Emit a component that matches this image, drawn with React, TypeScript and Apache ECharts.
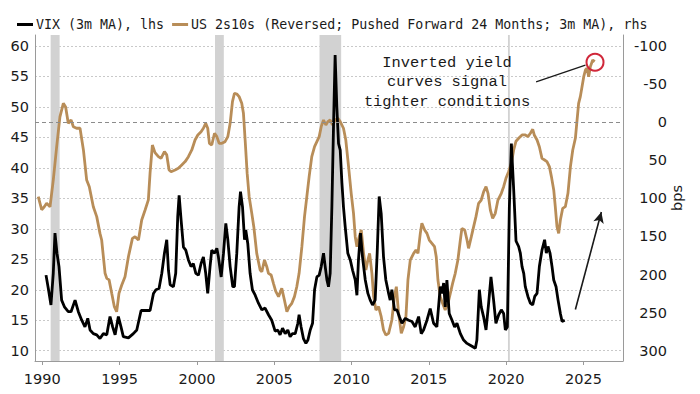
import React, { useEffect, useRef } from "react";
import * as echarts from "echarts";

// ---------- DATA ----------
const vixName = "VIX (3m MA), lhs";
const curveName = "US 2s10s (Reversed; Pushed Forward 24 Months; 3m MA), rhs";

const vixYears = [
  1990.24, 1990.39, 1990.56, 1990.71, 1990.82, 1990.95, 1991.08, 1991.25, 1991.43, 1991.68,
  1991.86, 1992.12, 1992.33, 1992.55, 1992.76, 1992.94, 1993.09, 1993.3, 1993.52, 1993.73,
  1993.95, 1994.17, 1994.38, 1994.55, 1994.71, 1994.92, 1995.09, 1995.24, 1995.57, 1995.89,
  1996.11, 1996.39, 1996.75, 1996.97, 1997.19, 1997.35, 1997.55, 1997.73, 1997.9, 1998.05,
  1998.16, 1998.27, 1998.48, 1998.63, 1998.76, 1998.85, 1998.98, 1999.13, 1999.28, 1999.45,
  1999.62, 1999.77, 1999.93, 2000.1, 2000.27, 2000.42, 2000.57, 2000.7, 2000.85, 2000.96,
  2001.14, 2001.29, 2001.39, 2001.57, 2001.72, 2001.87, 2002.0, 2002.15, 2002.32, 2002.43,
  2002.58, 2002.73, 2002.82, 2002.95, 2003.08, 2003.16, 2003.29, 2003.44, 2003.59, 2003.77,
  2003.98, 2004.2, 2004.41, 2004.63, 2004.84, 2005.06, 2005.23, 2005.38, 2005.54, 2005.71,
  2005.88, 2006.03, 2006.18, 2006.36, 2006.53, 2006.61, 2006.74, 2006.89, 2007.05, 2007.18,
  2007.33, 2007.48, 2007.61, 2007.76, 2007.91, 2008.04, 2008.19, 2008.3, 2008.41, 2008.51,
  2008.62, 2008.73, 2008.84, 2008.94, 2009.05, 2009.16, 2009.27, 2009.38, 2009.48, 2009.59,
  2009.76, 2009.92, 2010.07, 2010.24, 2010.35, 2010.45, 2010.58, 2010.71, 2010.89, 2011.06,
  2011.21, 2011.36, 2011.53, 2011.66, 2011.79, 2011.92, 2012.07, 2012.22, 2012.4, 2012.5,
  2012.61, 2012.78, 2012.94, 2013.09, 2013.26, 2013.48, 2013.69, 2013.91, 2014.12, 2014.34,
  2014.51, 2014.66, 2014.88, 2015.09, 2015.31, 2015.52, 2015.74, 2015.85, 2015.96, 2016.06,
  2016.17, 2016.32, 2016.5, 2016.67, 2016.82, 2017.04, 2017.25, 2017.47, 2017.68, 2018.01,
  2018.11, 2018.27, 2018.39, 2018.54, 2018.7, 2018.87, 2019.02, 2019.19, 2019.34, 2019.52,
  2019.69, 2019.84, 2019.95, 2020.08, 2020.21, 2020.34, 2020.49, 2020.64, 2020.81, 2020.92,
  2021.03, 2021.14, 2021.24, 2021.41, 2021.57, 2021.72, 2021.85, 2022.0, 2022.15, 2022.32,
  2022.49, 2022.6, 2022.71, 2022.84, 2022.97, 2023.08, 2023.23, 2023.36, 2023.51, 2023.62,
  2023.79,
];
const vixValues = [
  22.4, 20.2, 17.5, 22.7, 29.3, 26.0, 23.8, 18.3, 17.2, 16.4,
  16.4, 18.3, 16.4, 15.0, 13.9, 15.3, 13.4, 12.8, 12.6, 12.0,
  12.8, 12.6, 15.6, 13.9, 12.6, 15.6, 13.9, 12.3, 12.1, 12.8,
  13.4, 16.6, 16.6, 16.6, 19.4, 20.0, 20.2, 22.7, 26.0, 28.2,
  23.2, 20.8, 20.5, 22.7, 32.0, 35.5, 31.4, 27.0, 26.5, 24.9,
  23.8, 24.3, 22.7, 22.4, 24.3, 25.4, 22.7, 19.4, 23.8, 26.5,
  26.0, 26.8, 25.4, 22.1, 26.0, 30.9, 28.2, 23.8, 20.5, 20.5,
  26.0, 33.6, 36.1, 33.6, 28.2, 29.8, 27.6, 22.7, 20.0, 19.1,
  17.8, 16.7, 17.0, 15.9, 15.0, 13.2, 13.4, 12.6, 13.7, 12.8,
  13.4, 12.3, 12.8, 12.8, 14.5, 15.9, 13.9, 12.0, 11.2, 11.75,
  13.4, 14.5, 20.0, 22.1, 22.4, 23.8, 26.0, 23.8, 21.6, 20.5,
  22.7, 33.6, 47.3, 58.5, 50.0, 44.0, 42.9, 37.5, 33.6, 30.4,
  26.0, 24.9, 23.2, 21.6, 19.1, 24.9, 29.3, 25.4, 21.6, 19.4,
  18.3, 17.5, 18.3, 26.0, 35.3, 32.5, 25.4, 21.6, 19.4, 18.3,
  20.0, 16.7, 16.7, 15.6, 14.5, 15.3, 15.0, 14.8, 13.9, 15.6,
  12.8, 13.4, 15.0, 16.9, 14.5, 13.9, 20.5, 19.4, 21.1, 17.2,
  21.6, 16.1, 15.0, 13.9, 14.5, 12.8, 11.75, 11.2, 10.9, 10.4,
  11.75, 20.0, 17.2, 15.6, 13.4, 17.8, 22.1, 18.3, 14.5, 15.9,
  16.7, 16.1, 13.4, 13.9, 33.6, 44.0, 36.4, 28.0, 27.1, 26.0,
  23.8, 22.7, 20.5, 18.9, 17.8, 17.5, 18.9, 19.4, 23.8, 26.5,
  28.2, 26.0, 27.1, 26.0, 23.8, 21.6, 20.5, 18.3, 16.1, 14.8,
  15.0,
];

const curveYears = [
  1989.74, 1989.96, 1990.13, 1990.28, 1990.5, 1990.71, 1990.93, 1991.14, 1991.36, 1991.51,
  1991.68, 1991.86, 1992.01, 1992.22, 1992.44, 1992.66, 1992.87, 1993.04, 1993.3, 1993.52,
  1993.73, 1993.84, 1994.06, 1994.17, 1994.32, 1994.49, 1994.66, 1994.81, 1994.96, 1995.14,
  1995.35, 1995.57, 1995.83, 1996.0, 1996.22, 1996.43, 1996.65, 1996.86, 1996.97, 1997.12,
  1997.29, 1997.51, 1997.68, 1997.9, 1998.05, 1998.2, 1998.33, 1998.59, 1998.8, 1999.02,
  1999.24, 1999.45, 1999.67, 1999.88, 2000.06, 2000.27, 2000.42, 2000.57, 2000.7, 2000.81,
  2000.96, 2001.14, 2001.29, 2001.44, 2001.61, 2001.82, 2002.0, 2002.15, 2002.3, 2002.43,
  2002.58, 2002.73, 2002.9, 2003.01, 2003.12, 2003.25, 2003.38, 2003.55, 2003.68, 2003.87,
  2004.09, 2004.2, 2004.37, 2004.52, 2004.63, 2004.8, 2004.95, 2005.1, 2005.28, 2005.49,
  2005.66, 2005.82, 2005.97, 2006.14, 2006.31, 2006.46, 2006.61, 2006.79, 2006.96, 2007.11,
  2007.26, 2007.43, 2007.61, 2007.76, 2007.91, 2008.04, 2008.19, 2008.34, 2008.47, 2008.62,
  2008.77, 2008.94, 2009.12, 2009.27, 2009.48, 2009.63, 2009.81, 2009.98, 2010.13, 2010.24,
  2010.35, 2010.5, 2010.63, 2010.78, 2010.93, 2011.06, 2011.17, 2011.32, 2011.43, 2011.58,
  2011.75, 2011.92, 2012.07, 2012.22, 2012.4, 2012.61, 2012.78, 2012.9, 2013.04, 2013.22,
  2013.37, 2013.52, 2013.65, 2013.8, 2014.02, 2014.17, 2014.3, 2014.45, 2014.55, 2014.73,
  2014.88, 2015.03, 2015.2, 2015.37, 2015.48, 2015.59, 2015.74, 2015.89, 2016.06, 2016.24,
  2016.39, 2016.54, 2016.71, 2016.88, 2017.04, 2017.14, 2017.32, 2017.47, 2017.57, 2017.75,
  2017.9, 2018.05, 2018.22, 2018.39, 2018.55, 2018.7, 2018.83, 2018.98, 2019.13, 2019.3,
  2019.47, 2019.69, 2019.84, 2019.99, 2020.16, 2020.34, 2020.49, 2020.64, 2020.81, 2021.03,
  2021.24, 2021.41, 2021.57, 2021.72, 2021.82, 2022.0, 2022.15, 2022.32, 2022.49, 2022.64,
  2022.8, 2022.93, 2023.08, 2023.18, 2023.29, 2023.4, 2023.51, 2023.66, 2023.83, 2024.0,
  2024.16, 2024.31, 2024.48, 2024.59, 2024.69, 2024.8, 2024.91, 2025.02, 2025.13, 2025.23,
  2025.34, 2025.45, 2025.6, 2025.73,
];
const curveValues = [
  97.8, 115, 111, 106.5, 111, 76, 32, -7, -24.7, -20,
  1.5, -3, 6, 8, 8, 36.5, 76, 84.7, 111, 124,
  146, 154.7, 198.4, 205, 207, 224.7, 242.2, 248.8, 224.7, 213.8,
  202.8, 176.6, 152.5, 150.3, 154.7, 128.4, 115.3, 102, 67, 30,
  40, 45.3, 47.5, 38.7, 43, 62.8, 65, 62.8, 60.6, 56.2,
  51.8, 45.3, 36.5, 23.4, 16.8, 12.5, 8, 1.5, 8, 27.8,
  30, 14.6, 19, 27.8, 27.8, 25.6, 19, 1.5, -27, -37.9,
  -37, -33.5, -24.7, -11.6, 23.4, 67, 97.8, 119.7, 137.2, 172.2,
  194, 196.3, 181, 189.7, 198.4, 200.6, 211.6, 222, 229, 218,
  233.4, 248.8, 242.2, 237.8, 229, 216, 198.4, 163.4, 124, 97.8,
  71.5, 45.3, 32.2, 25.6, 19, 5.9, -2.8, 3.7, -0.7, -2.8,
  3.7, -2.8, -5, -0.7, 8, 23.4, 58.4, 93.4, 119.7, 150.3,
  163.4, 150.3, 141.5, 172.2, 194, 181, 172.2, 198.4, 229, 246.6,
  242.2, 255.3, 272.8, 279.4, 277.2, 259.7, 228, 216, 250, 277,
  268.5, 255.3, 207.2, 181, 172.2, 167.8, 172.2, 146, 132.8, 141.5,
  146, 154.7, 159, 163.4, 176.6, 207.2, 229, 237.8, 246.6, 237.8,
  224.7, 211.6, 198.4, 181, 154.7, 139.4, 141.5, 154.7, 165.6, 150.3,
  137.2, 124, 106.5, 102.2, 91.2, 84.7, 93.4, 115.3, 126.2, 119.7,
  102.2, 93.4, 84.7, 73.7, 65, 54, 36.5, 25, 21.2, 16.8,
  16.8, 19, 14.6, 9.4, 16.8, 23.4, 32.2, 47.5, 49.7, 51.8,
  58.4, 71.5, 89, 110.9, 137.2, 146, 128.4, 113.1, 110.9, 93.4,
  58.4, 36.5, 21.2, -2.9, -24.7, -33.5, -46.6, -59.7, -68.5, -70.7,
  -59.7, -72.9, -81.6, -79.4,
];

// US recessions (decimal years: start, end)
const recessions = [
  [1990.54, 1991.12],
  [2001.17, 2001.74],
  [2007.93, 2009.33],
  [2020.12, 2020.24],
];

const annotationLines = ["Inverted yield", "curves signal", "tighter conditions"];
// annotation markers (decimal year, bps)
const pointerLine = [[2021.94, -53], [2025.13, -75]];
const trendArrow = [[2024.48, 246], [2026.16, 118]];
const circled = [2025.75, -78.6];
const zeroLine = 0;

// axis extents
const xMin = 1989.528;
const xMax = 2027.56;
const lhsMin = 8.31;
const lhsMax = 61.8;
const rhsMin = -114.4;
const rhsMax = 313.5;

// ---------- STYLE ----------
const BROWN = "#b88d58";
const AXIS_GREY = "#9a9a9a";
const LABEL_FONT = "DejaVu Sans";

export default function App() {
  const ref = useRef<HTMLDivElement>(null);

  useEffect(() => {
    if (!ref.current) return;
    const chart = echarts.init(ref.current, undefined, { renderer: "svg" });

    const vixData = vixYears.map((y, i) => [y, vixValues[i]]);
    const curveData = curveYears.map((y, i) => [y, curveValues[i]]);

    const option: any = {
      animation: false,
      backgroundColor: "#ffffff",
      textStyle: { fontFamily: LABEL_FONT },
      legend: {
        left: 12,
        top: 13,
        icon: "rect",
        itemWidth: 16,
        itemHeight: 3,
        itemGap: 8,
        data: [
          { name: vixName, itemStyle: { color: "#000" } },
          { name: curveName, itemStyle: { color: BROWN } },
        ],
        textStyle: {
          fontFamily: "DejaVu Sans Mono",
          fontSize: 13.3,
          color: "#1a1a1a",
          padding: [0, 0, 0, -2],
        },
      },
      grid: { left: 35, right: 77, top: 35, bottom: 33, containLabel: false },
      xAxis: {
        type: "value",
        min: xMin,
        max: xMax,
        splitNumber: 8,
        axisLine: { show: true, onZero: false, lineStyle: { color: AXIS_GREY, width: 1 } },
        axisTick: { show: true, length: 4, lineStyle: { color: AXIS_GREY } },
        splitLine: { show: false },
        axisLabel: {
          showMinLabel: false,
          showMaxLabel: false,
          margin: 10,
          fontSize: 14.5,
          color: "#1a1a1a",
          fontFamily: LABEL_FONT,
          formatter: (v: number) => String(v),
        },
      },
      yAxis: [
        {
          type: "value",
          position: "left",
          min: lhsMin,
          max: lhsMax,
          splitNumber: 10,
          axisLine: { show: true, onZero: false, lineStyle: { color: AXIS_GREY, width: 1 } },
          axisTick: { show: false },
          splitLine: {
            show: true,
            showMinLine: false,
            showMaxLine: false,
            lineStyle: { color: "#c9c9c9", type: [2, 2], width: 1 },
          },
          axisLabel: {
            showMinLabel: false,
            showMaxLabel: false,
            margin: 6,
            fontSize: 14.5,
            color: "#1a1a1a",
            fontFamily: LABEL_FONT,
          },
        },
        {
          type: "value",
          position: "right",
          inverse: true,
          min: rhsMin,
          max: rhsMax,
          splitNumber: 10,
          axisLine: { show: true, onZero: false, lineStyle: { color: AXIS_GREY, width: 1 } },
          axisTick: { show: false },
          splitLine: { show: false },
          axisLabel: {
            showMinLabel: false,
            showMaxLabel: false,
            align: "right",
            margin: 44,
            fontSize: 14.5,
            color: "#1a1a1a",
            fontFamily: LABEL_FONT,
          },
          name: "bps",
          nameLocation: "middle",
          nameRotate: 90,
          nameGap: 46,
          nameMoveOverlap: false,
          nameTextStyle: { fontSize: 14.5, color: "#1a1a1a", fontFamily: LABEL_FONT },
        },
      ],
      graphic: [
        {
          type: "text",
          x: 447,
          y: 53,
          z: 10,
          style: {
            text: annotationLines.join("\n"),
            font: '15.4px "Liberation Mono"',
            lineHeight: 19.5,
            fill: "#1a1a1a",
            align: "center",
            verticalAlign: "top",
          },
        },
      ],
      series: [
        {
          name: curveName,
          type: "line",
          yAxisIndex: 1,
          data: curveData,
          showSymbol: false,
          symbol: "none",
          lineStyle: { color: BROWN, width: 2.8 },
          itemStyle: { color: BROWN },
          z: 3,
          markArea: {
            silent: true,
            itemStyle: { color: "#d2d2d2" },
            data: recessions.map((r) => [{ xAxis: r[0] }, { xAxis: r[1] }]),
          },
        },
        {
          name: vixName,
          type: "line",
          yAxisIndex: 0,
          data: vixData,
          showSymbol: false,
          symbol: "none",
          lineStyle: { color: "#000000", width: 2.8 },
          itemStyle: { color: "#000000" },
          z: 4,
        },
        {
          name: "zero",
          type: "line",
          yAxisIndex: 1,
          data: [],
          silent: true,
          z: 2,
          markLine: {
            silent: true,
            symbol: ["none", "none"],
            label: { show: false },
            lineStyle: { color: "#8c8c8c", type: [4, 3], width: 1 },
            data: [{ yAxis: zeroLine }],
          },
        },
        {
          name: "annotations",
          type: "line",
          yAxisIndex: 1,
          data: [],
          silent: true,
          z: 6,
          markLine: {
            silent: true,
            label: { show: false },
            lineStyle: { color: "#1a1a1a", type: "solid", width: 1.3 },
            data: [
              [
                { coord: pointerLine[0], symbol: "none" },
                { coord: pointerLine[1], symbol: "none" },
              ],
              [
                { coord: trendArrow[0], symbol: "none" },
                {
                  coord: trendArrow[1],
                  symbol: "arrow",
                  symbolSize: [8, 11],
                  lineStyle: { width: 1.6 },
                },
              ],
            ],
          },
          markPoint: {
            silent: true,
            label: { show: false },
            data: [
              {
                coord: circled,
                symbol: "circle",
                symbolSize: 17,
                itemStyle: {
                  color: "rgba(0,0,0,0)",
                  borderColor: "#d0283a",
                  borderWidth: 2,
                },
              },
            ],
          },
        },
      ],
    };

    chart.setOption(option);
    return () => chart.dispose();
  }, []);

  return (
    <div
      ref={ref}
      style={{ position: "fixed", left: 0, top: 0, width: 700, height: 394, background: "#fff" }}
    />
  );
}
